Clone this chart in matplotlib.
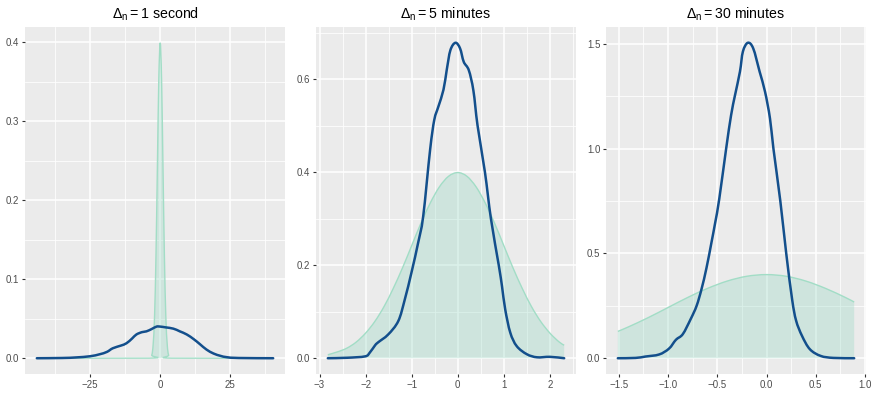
import numpy as np
import matplotlib
matplotlib.use("Agg")
import matplotlib.pyplot as plt
from matplotlib.path import Path
from matplotlib.patches import PathPatch

plt.rcParams['font.family'] = ['Liberation Sans', 'DejaVu Sans']
plt.rcParams['mathtext.fontset'] = 'custom'
plt.rcParams['mathtext.rm'] = 'Liberation Sans'
plt.rcParams['mathtext.it'] = 'Liberation Sans'

titles = [r"$\mathregular{\Delta_n = 1}$ second",
          r"$\mathregular{\Delta_n = 5}$ minutes",
          r"$\mathregular{\Delta_n = 30}$ minutes"]

# Panel 1 (1 second)
blue1_x = [-44, -35, -30, -25, -21.6, -19, -16.9, -14, -12, -10, -8.5, -6.5, -4.9, -3, -1.3, 0,
           2, 4.7, 7, 9.5, 12, 14.2, 16.5, 19, 21.5, 23.8, 28, 40.3]
blue1_y = [0, 0.0003, 0.001, 0.0025, 0.005, 0.008, 0.0126, 0.016, 0.019, 0.025, 0.030, 0.033, 0.034,
           0.037, 0.040, 0.040, 0.039, 0.0374, 0.034, 0.030, 0.024, 0.0177, 0.011, 0.006, 0.003,
           0.0013, 0.0003, 0]
green1_x = [-44, -4, -3, -2.5, -2, -1.5, -1, -0.5, 0, 0.5, 1, 1.5, 2, 2.5, 3, 4, 40.3]
green1_y = [0, 0.0001, 0.004, 0.018, 0.054, 0.130, 0.242, 0.352, 0.399, 0.352, 0.242, 0.130,
            0.054, 0.018, 0.004, 0.0001, 0]

# Panel 2 (5 minutes)
blue2_x = [-2.82, -2.4, -2.01, -1.91, -1.80, -1.73, -1.51, -1.29, -1.15, -1.00, -0.86, -0.75, -0.60,
           -0.51, -0.42, -0.31, -0.24, -0.16, -0.05, 0.05, 0.13, 0.24, 0.34, 0.43, 0.59, 0.72,
           0.89, 0.96, 1.03, 1.14, 1.28, 1.50, 1.72, 2.0, 2.31]
blue2_y = [0, 0.001, 0.004, 0.012, 0.027, 0.034, 0.051, 0.080, 0.126, 0.186, 0.248, 0.305, 0.448,
           0.512, 0.541, 0.577, 0.619, 0.662, 0.678, 0.666, 0.637, 0.619, 0.575, 0.50, 0.40, 0.30,
           0.20, 0.155, 0.105, 0.055, 0.026, 0.0086, 0.002, 0.003, 0]
green2_x = [-2.82, -2.6, -2.4, -2.2, -2.0, -1.8, -1.6, -1.4, -1.2, -1.0, -0.8, -0.6, -0.4, -0.2, 0.0,
            0.2, 0.4, 0.6, 0.8, 1.0, 1.2, 1.4, 1.6, 1.8, 2.0, 2.2, 2.31]
green2_y = [0.0075, 0.014, 0.022, 0.035, 0.054, 0.079, 0.111, 0.150, 0.194, 0.242, 0.290, 0.333,
            0.368, 0.391, 0.399, 0.391, 0.368, 0.333, 0.290, 0.242, 0.194, 0.150, 0.111, 0.079,
            0.054, 0.035, 0.028]

# Panel 3 (30 minutes)
blue3_x = [-1.51, -1.33, -1.23, -1.09, -0.99, -0.92, -0.85, -0.77, -0.71, -0.66, -0.61, -0.56, -0.52,
           -0.48, -0.41, -0.36, -0.32, -0.27, -0.24, -0.19, -0.135, -0.07, -0.015, 0.035, 0.07, 0.14,
           0.20, 0.26, 0.30, 0.36, 0.44, 0.55, 0.68, 0.89]
blue3_y = [0, 0.0015, 0.008, 0.018, 0.046, 0.088, 0.115, 0.187, 0.25, 0.33, 0.43, 0.55, 0.65,
           0.76, 1.0, 1.159, 1.255, 1.367, 1.463, 1.505, 1.478, 1.367, 1.271, 1.144, 1.0, 0.75,
           0.5, 0.28, 0.18, 0.107, 0.043, 0.011, 0.0015, 0]
green3_x = [-1.51, -1.4, -1.2, -1.0, -0.8, -0.6, -0.4, -0.2, 0.0, 0.2, 0.4, 0.6, 0.8, 0.89]
green3_y = [0.128, 0.150, 0.194, 0.242, 0.290, 0.333, 0.368, 0.391, 0.399, 0.391, 0.368, 0.333,
            0.290, 0.268]

panels = [
    dict(bx=blue1_x, by=blue1_y, gx=green1_x, gy=green1_y,
         xmaj=[-25, 0, 25], xmin=[-37.5, -12.5, 12.5, 37.5], xlab=["\u221225", "0", "25"],
         ymaj=[0.0, 0.1, 0.2, 0.3, 0.4], ymin=[0.05, 0.15, 0.25, 0.35],
         ylab=["0.0", "0.1", "0.2", "0.3", "0.4"]),
    dict(bx=blue2_x, by=blue2_y, gx=green2_x, gy=green2_y,
         xmaj=[-3, -2, -1, 0, 1, 2], xmin=[-2.5, -1.5, -0.5, 0.5, 1.5, 2.5],
         xlab=["\u22123", "\u22122", "\u22121", "0", "1", "2"],
         ymaj=[0.0, 0.2, 0.4, 0.6], ymin=[0.1, 0.3, 0.5, 0.7],
         ylab=["0.0", "0.2", "0.4", "0.6"]),
    dict(bx=blue3_x, by=blue3_y, gx=green3_x, gy=green3_y,
         xmaj=[-1.5, -1.0, -0.5, 0.0, 0.5, 1.0], xmin=[-1.25, -0.75, -0.25, 0.25, 0.75],
         xlab=["\u22121.5", "\u22121.0", "\u22120.5", "0.0", "0.5", "1.0"],
         ymaj=[0.0, 0.5, 1.0, 1.5], ymin=[0.25, 0.75, 1.25],
         ylab=["0.0", "0.5", "1.0", "1.5"]),
]


def smooth_verts(x, y):
    """Catmull-Rom curve through the points, as cubic Bezier path pieces."""
    P = np.column_stack([x, y]).astype(float)
    n = len(P)
    verts = [P[0]]
    codes = [Path.MOVETO]
    for i in range(n - 1):
        p0 = P[i - 1] if i > 0 else P[i]
        p1 = P[i]
        p2 = P[i + 1]
        p3 = P[i + 2] if i + 2 < n else P[i + 1]
        c1 = p1 + (p2 - p0) / 6.0
        c2 = p2 - (p3 - p1) / 6.0
        c1[1] = max(c1[1], 0.0)
        c2[1] = max(c2[1], 0.0)
        verts += [c1, c2, p2]
        codes += [Path.CURVE4] * 3
    return verts, codes


W, H = 872, 396
fig = plt.figure(figsize=(W / 100, H / 100), dpi=100)
lefts = [25, 316, 606]
pw = 260
top, bottom = 27, 374

blue = '#134F8C'
green_line = '#A2DDC6'
green_fill = '#99D8C4'

for i, p in enumerate(panels):
    ax = fig.add_axes([lefts[i] / W, 1 - bottom / H, pw / W, (bottom - top) / H])
    ax.set_facecolor('#EBEBEB')
    for s in ax.spines.values():
        s.set_visible(False)
    bx = np.array(p['bx']); by = np.array(p['by'])
    gx = np.array(p['gx']); gy = np.array(p['gy'])

    gv, gc = smooth_verts(gx, gy)
    fv = list(gv) + [np.array([gx[-1], 0.0]), np.array([gx[0], 0.0]), np.array([gx[0], gy[0]])]
    fc = list(gc) + [Path.LINETO, Path.LINETO, Path.CLOSEPOLY]
    ax.add_patch(PathPatch(Path(fv, fc), facecolor=green_fill, alpha=0.35, lw=0, zorder=2))
    ax.add_patch(PathPatch(Path(gv, gc), facecolor='none', edgecolor=green_line, lw=1.0, zorder=3))
    bv, bc = smooth_verts(bx, by)
    ax.add_patch(PathPatch(Path(bv, bc), facecolor='none', edgecolor=blue, lw=1.8, zorder=4,
                           joinstyle='round', capstyle='round'))

    xlo, xhi = min(bx.min(), gx.min()), max(bx.max(), gx.max())
    ylo, yhi = 0.0, max(by.max(), gy.max())
    dx = (xhi - xlo) * 0.05; dy = (yhi - ylo) * 0.05
    ax.set_xlim(xlo - dx, xhi + dx)
    ax.set_ylim(ylo - dy, yhi + dy)
    ax.set_xticks(p['xmaj']); ax.set_xticklabels(p['xlab'])
    ax.set_yticks(p['ymaj']); ax.set_yticklabels(p['ylab'])
    ax.set_xticks(p['xmin'], minor=True)
    ax.set_yticks(p['ymin'], minor=True)
    ax.grid(which='major', color='white', lw=1.1, zorder=1)
    ax.grid(which='minor', color='white', lw=0.55, zorder=1)
    ax.set_axisbelow(True)
    ax.tick_params(which='major', length=2.5, width=0.8, color='#333333', labelcolor='#4D4D4D',
                   labelsize=7, pad=1.5)
    ax.tick_params(which='minor', length=0)
    ax.set_title(titles[i], fontsize=10.2, pad=6, color='black')

fig.savefig('out.png', dpi=100)
